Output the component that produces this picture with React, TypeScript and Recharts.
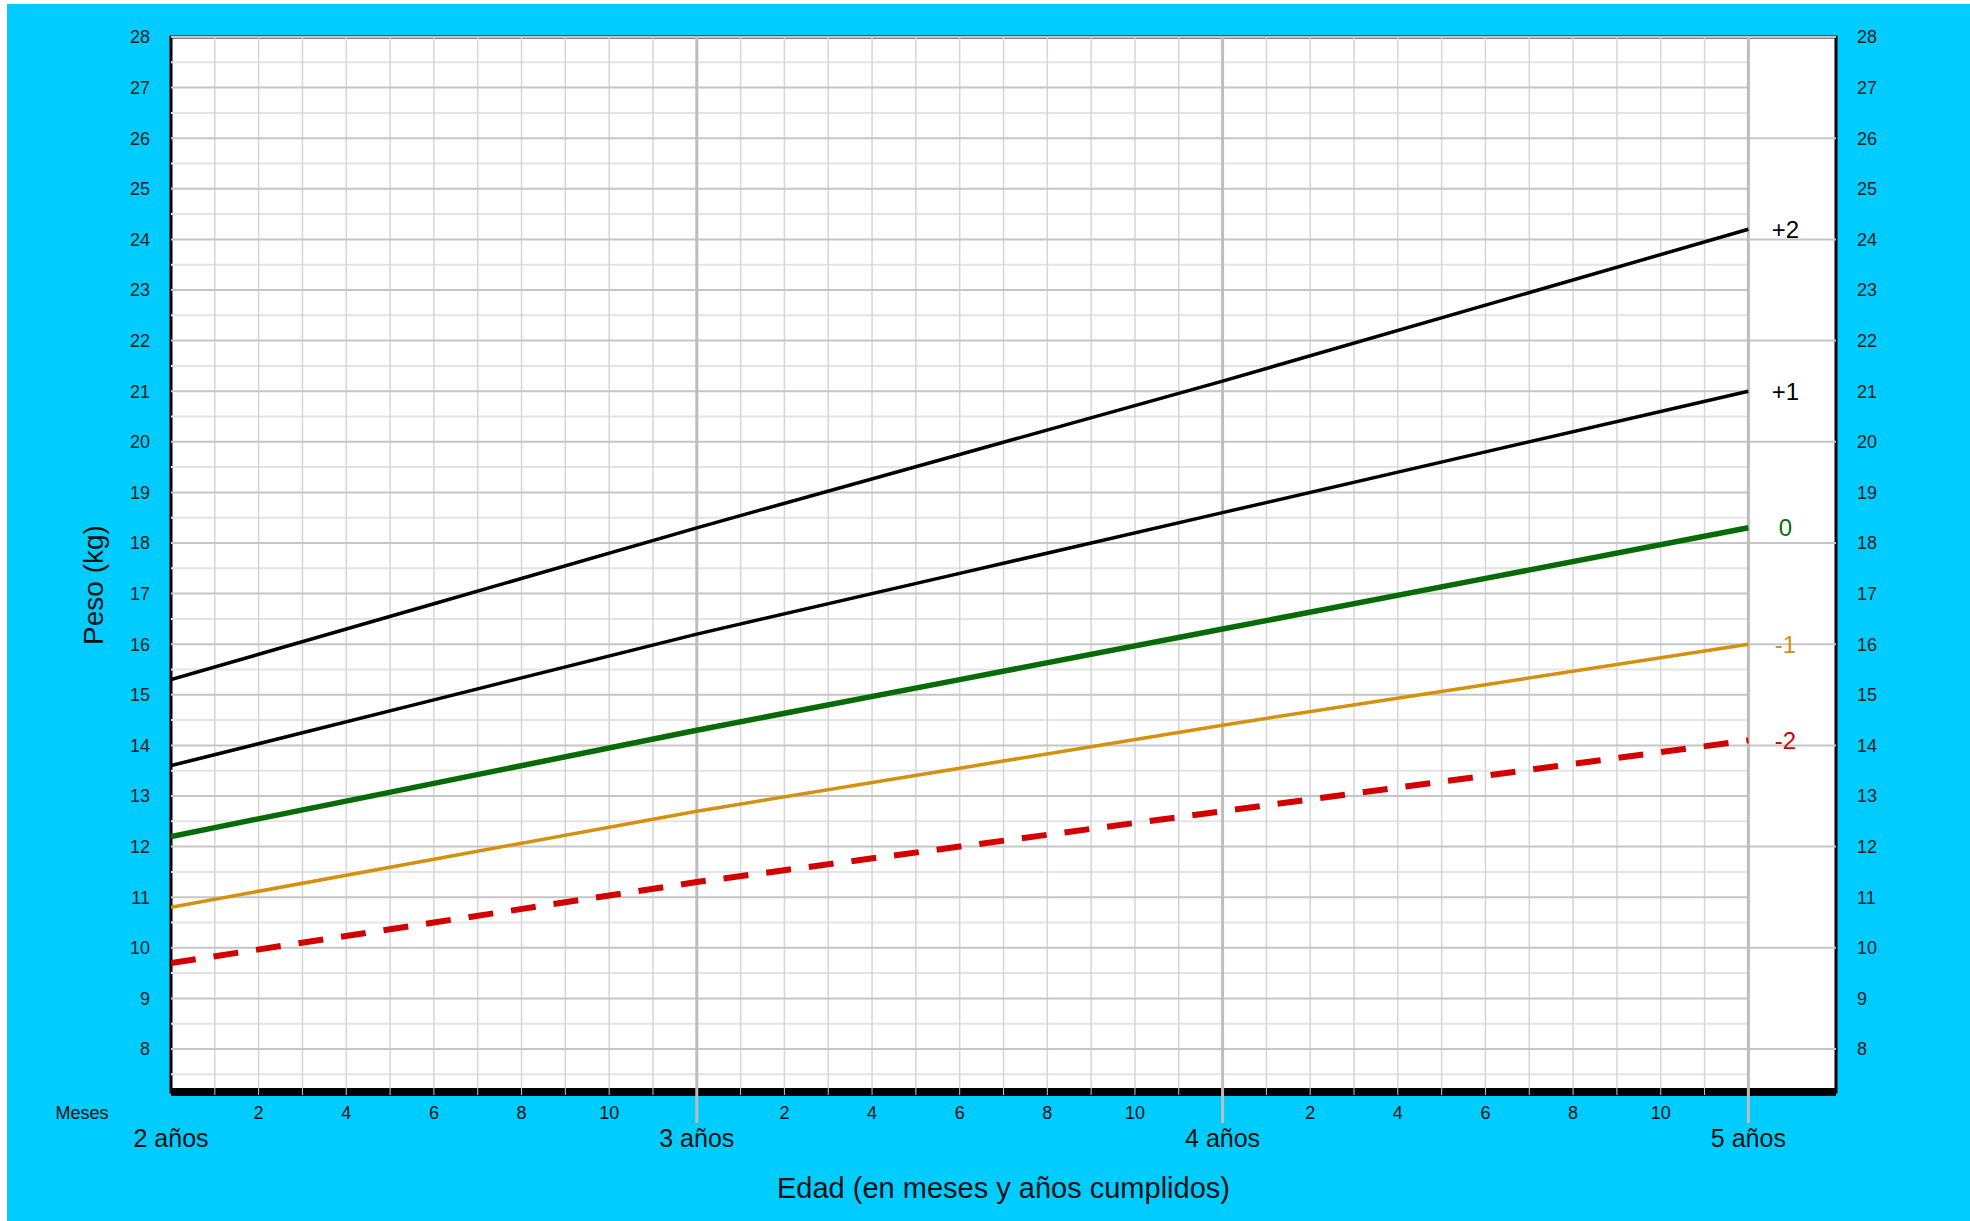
import { LineChart, Line, XAxis, YAxis, ReferenceLine, ReferenceArea, CartesianGrid } from 'recharts'

// edad en meses (2 a 5 años) y puntuaciones z del peso (kg)
const meses = [24, 30, 36, 42, 48, 54, 60]
const zMenos2 = [9.7, 10.5, 11.3, 12.0, 12.7, 13.4, 14.1]
const zMenos1 = [10.8, 11.75, 12.7, 13.55, 14.4, 15.2, 16.0]
const zCero = [12.2, 13.25, 14.3, 15.3, 16.3, 17.3, 18.3]
const zMas1 = [13.6, 14.9, 16.2, 17.4, 18.6, 19.8, 21.0]
const zMas2 = [15.3, 16.8, 18.3, 19.75, 21.2, 22.7, 24.2]

const pesoTicks = [8, 9, 10, 11, 12, 13, 14, 15, 16, 17, 18, 19, 20, 21, 22, 23, 24, 25, 26, 27, 28]
const aniosTicks = [24, 36, 48, 60]
const mesTicks = Array.from({ length: 37 }, (_, i) => 24 + i)
const medioTicks = pesoTicks.slice(0, -1).map((v) => v + 0.5).concat([7.5])

const datos = meses.map((m, i) => ({
  mes: m,
  zm2: zMenos2[i],
  zm1: zMenos1[i],
  z0: zCero[i],
  zp1: zMas1[i],
  zp2: zMas2[i],
}))

const fuente = "'Liberation Sans', Arial, sans-serif"
const ultimo = datos.length - 1

function etiquetaFinal(texto: string, color: string) {
  return (props: any) => {
    if (props.index !== ultimo) return null
    return (
      <text
        x={props.x + 37}
        y={props.y}
        textAnchor="middle"
        dominantBaseline="central"
        fontSize={24}
        fontFamily={fuente}
        fill={color}
      >
        {texto}
      </text>
    )
  }
}

function TickMes(props: any) {
  const { x, y, payload } = props
  const m = payload.value
  const off = (m - 24) % 12
  if (off === 0) {
    return (
      <g>
        {m > 24 && <line x1={x} x2={x} y1={y - 4} y2={y + 31} stroke="#bdbdbd" strokeWidth={3} />}
        <text x={x} y={y + 46} textAnchor="middle" dominantBaseline="central" fontSize={25} fontFamily={fuente} fill="#111">
          {`${m / 12} años`}
        </text>
        {m === 24 && (
          <text x={75} y={y + 21} textAnchor="middle" dominantBaseline="central" fontSize={18} fontFamily={fuente} fill="#111">
            Meses
          </text>
        )}
      </g>
    )
  }
  return (
    <g>
      <line x1={x} x2={x} y1={y - 4} y2={y + 3} stroke="#c8c8c8" strokeWidth={1} />
      {off % 2 === 0 && (
        <text x={x} y={y + 21} textAnchor="middle" dominantBaseline="central" fontSize={18} fontFamily={fuente} fill="#111">
          {off}
        </text>
      )}
    </g>
  )
}

export default function App() {
  return (
    <div style={{ position: 'absolute', left: 7, top: 4, width: 1963, height: 1217, background: '#00ccff' }}>
      <LineChart width={1963} height={1217} data={datos} margin={{ top: 33, right: 74, left: 104, bottom: 29 }}>
        <CartesianGrid horizontal={false} vertical={false} fill="#ffffff" />
        <XAxis
          dataKey="mes"
          type="number"
          domain={[24, 62]}
          ticks={mesTicks}
          interval={0}
          allowDataOverflow
          height={100}
          axisLine={{ stroke: '#000', strokeWidth: 8 }}
          tickLine={false}
          tickSize={0}
          tickMargin={0}
          tick={<TickMes />}
          label={{
            content: () => (
              <text x={996.5} y={1184} textAnchor="middle" dominantBaseline="central" fontSize={29} fontFamily={fuente} fill="#111">
                Edad (en meses y años cumplidos)
              </text>
            ),
          }}
        />
        <YAxis
          yAxisId="l"
          type="number"
          domain={[7.15, 28]}
          ticks={pesoTicks}
          interval={0}
          allowDataOverflow
          width={60}
          axisLine={false}
          tickLine={false}
          tickSize={0}
          tickMargin={21}
          tick={{ fontSize: 18, fontFamily: fuente, fill: '#222' }}
          label={{
            content: () => (
              <text x={86} y={581} transform="rotate(-90 86 581)" textAnchor="middle" dominantBaseline="central" fontSize={28} fontFamily={fuente} fill="#111">
                Peso (kg)
              </text>
            ),
          }}
        />
        <YAxis
          yAxisId="r"
          orientation="right"
          type="number"
          domain={[7.15, 28]}
          ticks={pesoTicks}
          interval={0}
          allowDataOverflow
          width={60}
          axisLine={false}
          tickLine={false}
          tickSize={0}
          tickMargin={21}
          tick={{ fontSize: 18, fontFamily: fuente, fill: '#222', textAnchor: 'start' }}
        />

        {medioTicks.map((v) => (
          <ReferenceLine key={`h${v}`} yAxisId="l" segment={[{ x: 24, y: v }, { x: 60, y: v }]} stroke="#e4e4e4" strokeWidth={2} ifOverflow="hidden" />
        ))}
        {mesTicks
          .filter((m) => m > 24 && m < 60 && (m - 24) % 12 !== 0)
          .map((m) => (
            <ReferenceLine key={`v${m}`} yAxisId="l" x={m} stroke="#d6d6d6" strokeWidth={1.5} />
          ))}
        {pesoTicks.map((v) =>
          v % 2 === 0 ? (
            <ReferenceLine key={`p${v}`} yAxisId="l" y={v} stroke="#c6c6c6" strokeWidth={2} />
          ) : (
            <ReferenceLine key={`p${v}`} yAxisId="l" segment={[{ x: 24, y: v }, { x: 60, y: v }]} stroke="#c6c6c6" strokeWidth={2} />
          )
        )}
        {aniosTicks.slice(1).map((m) => (
          <ReferenceLine key={`a${m}`} yAxisId="l" x={m} stroke="#bdbdbd" strokeWidth={3} />
        ))}
        <ReferenceArea yAxisId="l" x1={24} x2={62} y1={7.15} y2={28} fill="none" fillOpacity={0} stroke="#000" strokeWidth={3} />

        <Line yAxisId="l" dataKey="zp2" stroke="#000" strokeWidth={3.5} dot={false} isAnimationActive={false} label={etiquetaFinal('+2', '#000')} />
        <Line yAxisId="l" dataKey="zp1" stroke="#000" strokeWidth={3.5} dot={false} isAnimationActive={false} label={etiquetaFinal('+1', '#000')} />
        <Line yAxisId="l" dataKey="z0" stroke="#086b08" strokeWidth={5.5} dot={false} isAnimationActive={false} label={etiquetaFinal('0', '#0a6e0a')} />
        <Line yAxisId="l" dataKey="zm1" stroke="#d4900f" strokeWidth={3.5} dot={false} isAnimationActive={false} label={etiquetaFinal('-1', '#d4900f')} />
        <Line yAxisId="l" dataKey="zm2" stroke="#d40000" strokeWidth={6} strokeDasharray="25 18" dot={false} isAnimationActive={false} label={etiquetaFinal('-2', '#d40000')} />
      </LineChart>
    </div>
  )
}
